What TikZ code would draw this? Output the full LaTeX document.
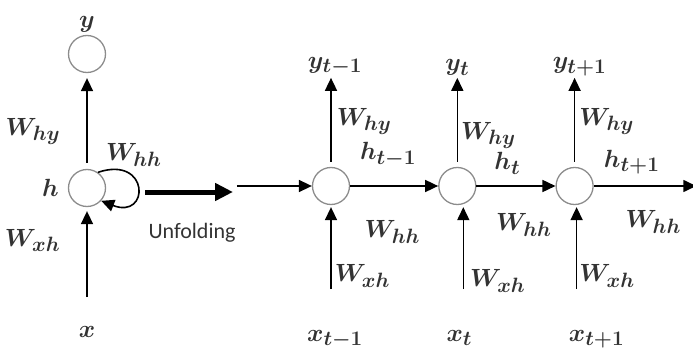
\documentclass[tikz,border=0pt]{standalone}
\usepackage{fontspec}
\newfontfamily\unffont{Carlito}
\DeclareMathSizes{27}{27}{21}{17}
\usepackage{tikz}
\usetikzlibrary{arrows.meta, positioning}

\begin{document}
\begin{tikzpicture}[x=1pt, y=-1pt,
	cell/.style={circle, draw=black!45, line width=1.3pt, minimum size=37pt, inner sep=0pt},
	arr/.style={-{Triangle[length=13pt, width=12pt]}, line width=1.6pt},
	lbl/.style={font=\fontsize{27}{32}\selectfont\boldmath, text=black!80, inner sep=2pt}]

	\useasboundingbox (0,0) rectangle (693,350);

	\node[cell] (h) at (87,188) {};
	\node[cell] (y) at (87,54) {};
	\node[lbl] (ylab) [above=0pt of y] {$y$};
	\node[lbl] (hlab) [left=7pt of h] {$h$};
	\node[lbl, anchor=base] (xlab) at (87,337) {$x$};
	\node[coordinate] (xin) [below=90pt of h] {};

	\coordinate (ua) at (145,192);
	\coordinate (ub) at (233,192);
	\node[text=black!80] (unf) at (192,233) {\unffont\fontsize{22}{26}\selectfont Unfolding};

	\node[cell] (c1) at (331,186) {};
	\node[cell] (c2) [right=88pt of c1] {};
	\node[cell] (c3) [right=79pt of c2] {};

	\node[coordinate] (in1) [left=75pt of c1] {};
	\node[coordinate] (out3) [right=102.5pt of c3] {};
	\node[coordinate] (yo1) [above=89pt of c1] {};
	\node[coordinate] (yo2) [above=89pt of c2] {};
	\node[coordinate] (yo3) [above=89pt of c3] {};
	\node[coordinate] (xi1) [below=84pt of c1] {};
	\node[coordinate] (xi2) [below=84pt of c2, xshift=6pt] {};
	\node[coordinate] (xi3) [below=84pt of c3, xshift=2pt] {};
	\coordinate (xb) at (0,341);

	\node[lbl] (yt1) [above=0pt of yo1, xshift=4pt] {$y_{t-1}$};
	\node[lbl] (yt2) [above=0pt of yo2] {$y_t$};
	\node[lbl] (yt3) [above=0pt of yo3, xshift=5pt] {$y_{t+1}$};
	\node[lbl, anchor=base, xshift=4pt] (xt1) at (c1 |- xb) {$x_{t-1}$};
	\node[lbl, anchor=base, xshift=2pt] (xt2) at (c2 |- xb) {$x_t$};
	\node[lbl, anchor=base, xshift=22pt] (xt3) at (c3 |- xb) {$x_{t+1}$};

	\path[arr]
	(xin) edge[shorten >=4pt] node[lbl, pos=.63, left=24pt] {$W_{xh}$} (h)
	(h) edge[shorten <=6pt, shorten >=5pt] node[lbl, pos=.39, left=24pt] {$W_{hy}$} (y)
	(ua) edge[line width=5pt, -{Triangle[length=18pt, width=17pt]}] (ub)

	(in1) edge (c1)
	(c1) edge node[lbl, pos=.43, above=16pt] {$h_{t-1}$} node[lbl, pos=.48, below=32pt] {$W_{hh}$} (c2)
	(c2) edge node[lbl, pos=.39, above=9pt] {$h_t$} node[lbl, pos=.6, below=25pt] {$W_{hh}$} (c3)
	(c3) edge node[lbl, pos=.37, above=9pt] {$h_{t+1}$} node[lbl, pos=.58, below=22pt] {$W_{hh}$} (out3)

	(c1) edge[shorten <=5pt] node[lbl, pos=.51, right=3pt] {$W_{hy}$} (yo1)
	(c2) edge[shorten <=5pt] node[lbl, pos=.35, right=1pt] {$W_{hy}$} (yo2)
	(c3) edge[shorten <=5pt] node[lbl, pos=.51, right=2pt] {$W_{hy}$} (yo3)

	(xi1) edge[shorten >=2pt] node[lbl, pos=.16, right=1pt] {$W_{xh}$} (c1)
	(xi2) edge[shorten >=2pt] node[lbl, pos=.1, right=4pt] {$W_{xh}$} (xi2 |- c2.south)
	(xi3) edge[shorten >=2pt] node[lbl, pos=.16, right=0pt] {$W_{xh}$} (xi3 |- c3.south);

	\draw[arr] (h.55) .. controls (150,155) and (150,220) .. (h.-42)
		node[lbl, pos=.05, anchor=south west, inner sep=0pt, yshift=3pt] {$W_{hh}$};

\end{tikzpicture}
\end{document}
